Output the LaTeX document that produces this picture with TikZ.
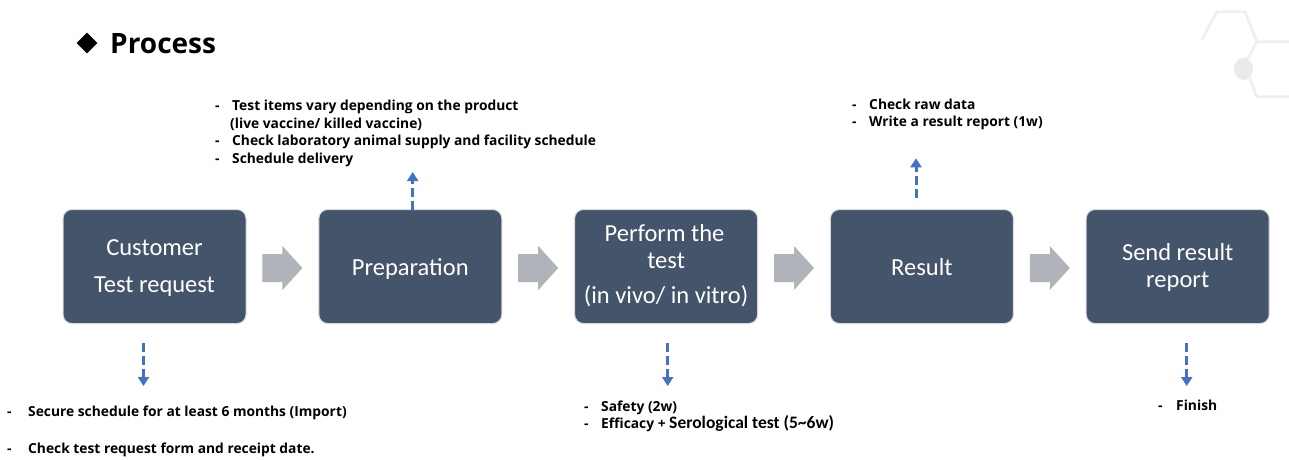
\documentclass[tikz,border=0pt]{standalone}
\usepackage{fontspec}
\setmainfont{Open Sans}
\newfontfamily\stagefont{Carlito}
\usetikzlibrary{arrows.meta,shapes.geometric,calc}
\definecolor{stagefill}{HTML}{44546A}
\definecolor{stageline}{HTML}{D6D9DE}
\definecolor{flowgray}{HTML}{B0B3BA}
\definecolor{noteblue}{HTML}{4472C4}
\definecolor{decogray}{HTML}{EFEFEF}
\definecolor{decodot}{HTML}{EAEAEA}
\newcommand\bulletdash[1][17pt]{\makebox[#1][l]{-}}
\begin{document}
\begin{tikzpicture}[x=1pt,y=-1pt,
  stage/.style={draw=stageline, line width=1pt, fill=stagefill, rounded corners=9pt,
    minimum width=183pt, minimum height=114pt, inner sep=0pt},
  stagetext/.style={font=\stagefont\fontsize{24.5}{28}\selectfont, text=white, anchor=base, inner sep=0pt},
  note/.style={font=\bfseries\fontsize{13.8}{17.5}\selectfont, anchor=base west, inner sep=0pt},
  notearrow/.style={draw=noteblue, line width=3pt, dash pattern=on 9pt off 4pt,
    -{Triangle[length=9pt,width=11pt]}},
  flowarrow/.pic={\fill[flowgray] (-20,-14) -- (0,-14) -- (0,-22) -- (20,0) -- (0,22) -- (0,14) -- (-20,14) -- cycle;}
]
\useasboundingbox (0,0) rectangle (1289,459);
\fill[white] (0,0) rectangle (1289,459);

% corner ornament
\begin{scope}[decogray, line width=2.7pt]
  \draw (1201.7,40) -- (1216.7,11.7) -- (1245,11.7) -- (1256.7,41.7) -- (1289,41.7);
  \draw (1256.7,41.7) -- (1246,62);
  \draw (1250,78) -- (1256.7,96.7) -- (1289,96.7);
  \fill[decodot] (1243.5,69) ellipse [x radius=9.5, y radius=11];
\end{scope}

% title
\node[diamond, fill=black, inner sep=0pt, minimum size=21pt] (mark) at (87,43) {};
\node[font=\bfseries\fontsize{28}{32}\selectfont, anchor=base west, inner sep=0pt] (title) at (110,53) {Process};

% process stages
\node[stage] (s1) at (154.5,266.5) {};
\node[stage] (s2) at (410.3,266.5) {};
\node[stage] (s3) at (666.1,266.5) {};
\node[stage] (s4) at (921.9,266.5) {};
\node[stage] (s5) at (1177.7,266.5) {};

\node[stagetext] (s1a) at (154.5,255) {Customer};
\node[stagetext] (s1b) at (154.5,292.7) {Test request};
\node[stagetext] (s2a) at (410.3,275) {Preparation};
\node[stagetext] (s3a) at (664.5,241) {Perform the};
\node[stagetext] (s3b) at (666.1,268) {test};
\node[stagetext] (s3c) at (666.1,303) {(in vivo/ in vitro)};
\node[stagetext] (s4a) at (921.9,275) {Result};
\node[stagetext] (s5a) at (1177.7,260) {Send result};
\node[stagetext] (s5b) at (1177.7,287) {report};

% flow arrows between stages
\pic at ($(s1.east)!0.5!(s2.west)+(0,1.5)$) {flowarrow};
\pic at ($(s2.east)!0.5!(s3.west)+(0,1.5)$) {flowarrow};
\pic at ($(s3.east)!0.5!(s4.west)+(0,1.5)$) {flowarrow};
\pic at ($(s4.east)!0.5!(s5.west)+(0,1.5)$) {flowarrow};

% notes
\node[note] (n2) at (215,110.7) {\begin{tabular}[t]{@{}l@{}}
  \bulletdash Test items vary depending on the product\\
  \hspace*{15pt}(live vaccine/ killed vaccine)\\
  \bulletdash Check laboratory animal supply and facility schedule\\
  \bulletdash Schedule delivery
\end{tabular}};
\node[note] (n4) at (852,109.3) {\begin{tabular}[t]{@{}l@{}}
  \bulletdash Check raw data\\
  \bulletdash Write a result report (1w)
\end{tabular}};
\node[note] (n1) at (7,416) {\begin{tabular}[t]{@{}l@{}}
  \bulletdash[21pt]Secure schedule for at least 6 months (Import)\\[20pt]
  \bulletdash[21pt]Check test request form and receipt date.
\end{tabular}};
\node[note] (n3) at (584,411.7) {\begin{tabular}[t]{@{}l@{}}
  \bulletdash Safety (2w)\\[-1pt]
  \bulletdash Efficacy + {\stagefont\bfseries\fontsize{17.5}{17.5}\selectfont Serological test (5\textasciitilde 6w)}
\end{tabular}};
\node[note] (n5) at (1158,410) {\bulletdash[18pt]Finish};

% note pointers
\coordinate (p1a) at (143.5,343);  \coordinate (p1b) at (143.5,386);
\coordinate (p2a) at (412.7,210);  \coordinate (p2b) at (412.7,172);
\coordinate (p3a) at (667.7,343);  \coordinate (p3b) at (667.7,386);
\coordinate (p4a) at (916,198);    \coordinate (p4b) at (916,158.3);
\coordinate (p5a) at (1186.7,343); \coordinate (p5b) at (1186.7,386);
\draw[notearrow] (p1a) -- (p1b);
\draw[notearrow] (p2a) -- (p2b);
\draw[notearrow] (p3a) -- (p3b);
\draw[notearrow] (p4a) -- (p4b);
\draw[notearrow] (p5a) -- (p5b);
\end{tikzpicture}
\end{document}
